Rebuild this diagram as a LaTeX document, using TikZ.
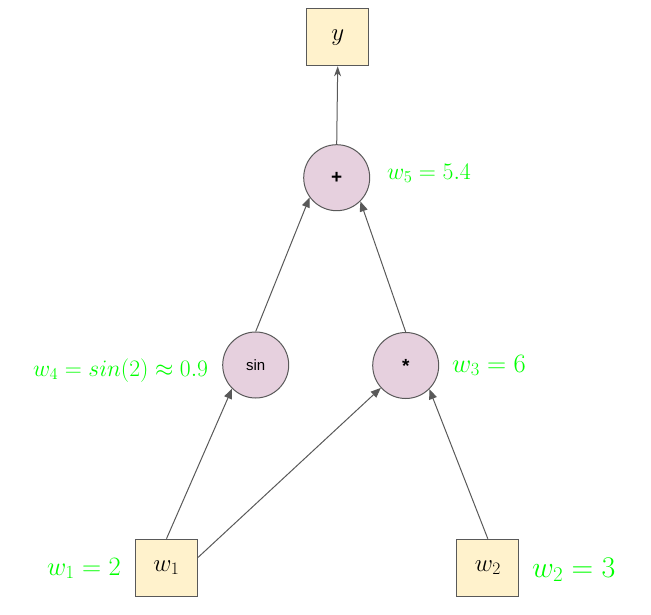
\RequirePackage{fix-cm}
\documentclass[tikz,border=0pt]{standalone}
\usepackage{fontspec}
\setsansfont{Liberation Sans}
\usepackage{amsmath,amssymb}
\usetikzlibrary{arrows.meta}
\definecolor{boxfill}{HTML}{FFF2CC}
\definecolor{opfill}{HTML}{E6D0DE}
\definecolor{linegray}{HTML}{595959}
\definecolor{valgreen}{HTML}{00FF00}

\begin{document}
\begin{tikzpicture}[x=1pt,y=-1pt,
    var/.style={draw=linegray,fill=boxfill,line width=1pt,inner sep=0pt,
        minimum width=62pt,minimum height=57pt,font=\fontsize{25}{29}\selectfont},
    op/.style={circle,draw=linegray,fill=opfill,line width=1pt,inner sep=0pt,
        minimum size=66pt,font=\sffamily\fontsize{15}{18}\selectfont},
    sym/.style={font=\sffamily\bfseries\fontsize{19}{22}\selectfont},
    edge/.style={draw=linegray,line width=1pt,-{Triangle[length=10pt,width=8pt]}},
    outedge/.style={draw=linegray,line width=1pt,-{Stealth[length=10pt,width=7pt,inset=3pt]}},
    val/.style={text=valgreen,anchor=base west,inner sep=0pt}]
    \useasboundingbox (0,0) rectangle (651,615);
    \node[var] (y) at (337.7,37.3) {$y$};
    \node[op,sym] (add) at (336.7,177.7) {+};
    \node[op] (sin) at (255.7,365) {sin};
    \node[op,sym] (mul) at (405.7,365.5) {*};
    \node[var] (w1) at (166.5,567.7) {$w_1$};
    \node[var] (w2) at (487.8,567.7) {$w_2$};
    \draw[outedge] (add.north) -- (y.south);
    \foreach \a/\b in {sin.north/add.216, mul.north/add.315, w1.north/sin.225,
        w1.18/mul.222, w2.north/mul.315}
        \draw[edge] (\a) -- (\b);
    \node[val,font=\fontsize{23.7}{27}\selectfont] (v5) at (387,179) {$w_5 = 5.4$};
    \node[val,font=\fontsize{23.6}{27}\selectfont] (v4) at (33,376) {$w_4 = sin(2) \approx 0.9$};
    \node[val,font=\fontsize{26.5}{30}\selectfont] (v3) at (452,372) {$w_3 = 6$};
    \node[val,font=\fontsize{26.5}{30}\selectfont] (v1) at (47,575) {$w_1 = 2$};
    \node[val,font=\fontsize{30}{34}\selectfont] (v2) at (532,577) {$w_2 = 3$};
\end{tikzpicture}
\end{document}
